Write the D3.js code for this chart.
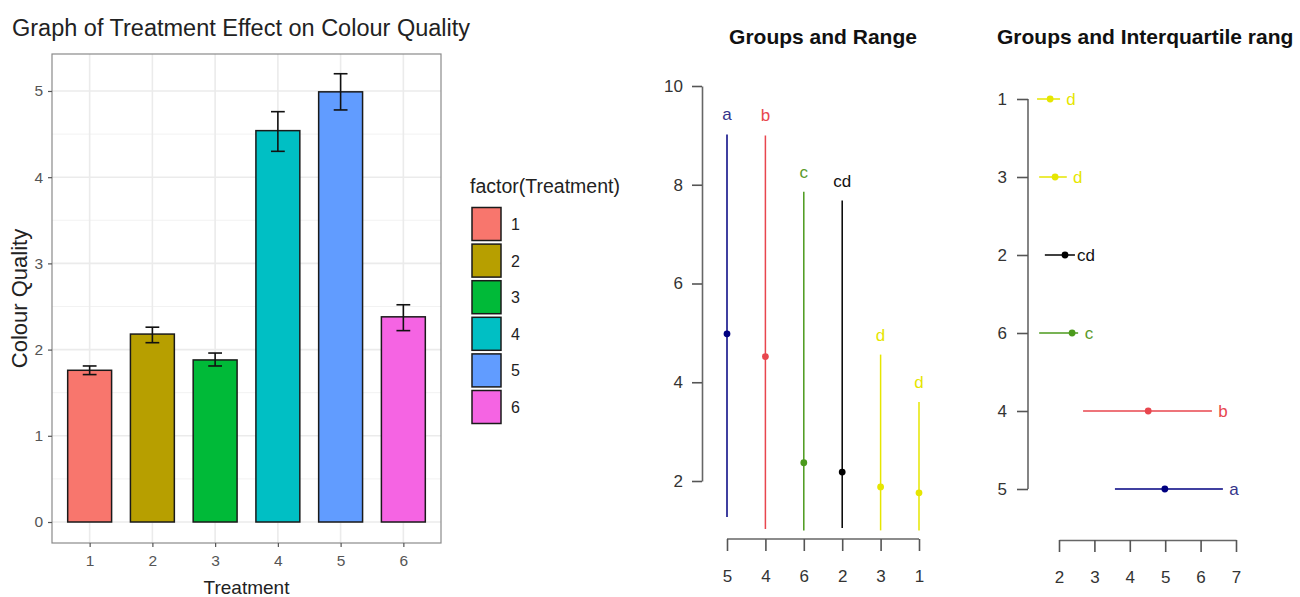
<!DOCTYPE html>
<html lang="en">
<head>
<meta charset="utf-8">
<title>Treatment Effect on Colour Quality</title>
<script src="https://cdn.jsdelivr.net/npm/d3@7"></script>
<style>
  body { margin: 0; background: #fff; }
  text { font-family: "Liberation Sans", Arial, sans-serif; }
</style>
</head>
<body>
<script>
// ---- bar chart data ----
var treatments = ["1", "2", "3", "4", "5", "6"];
var meanQuality = [1.76, 2.18, 1.88, 4.54, 4.99, 2.38];
var errLow = [1.71, 2.08, 1.81, 4.30, 4.78, 2.22];
var errHigh = [1.81, 2.26, 1.96, 4.76, 5.20, 2.52];
var barColors = ["#F8766D", "#B79F00", "#00BA38", "#00BFC4", "#619CFF", "#F564E3"];
var qualityTicks = [0, 1, 2, 3, 4, 5];

// ---- groups and range ----
var rangeOrder = ["5", "4", "6", "2", "3", "1"];
var rangeMin = [1.27, 1.03, 1.0, 1.05, 1.0, 1.0];
var rangeMax = [9.02, 9.0, 7.86, 7.68, 4.56, 3.6];
var rangeMean = [4.98, 4.52, 2.37, 2.18, 1.88, 1.76];
var rangeLetters = ["a", "b", "c", "cd", "d", "d"];
var rangeTicks = [2, 4, 6, 8, 10];

// ---- groups and interquartile range ----
var iqrOrder = ["1", "3", "2", "6", "4", "5"];
var q25 = [1.38, 1.44, 1.6, 1.44, 2.68, 3.58];
var q75 = [2.03, 2.22, 2.45, 2.54, 6.32, 6.63];
var iqrMean = [1.75, 1.89, 2.17, 2.37, 4.52, 4.99];
var iqrLetters = ["d", "d", "cd", "c", "b", "a"];
var iqrTicks = [2, 3, 4, 5, 6, 7];

// colour per letter group
var letterColor = { "a": "#000080", "b": "#e8464e", "c": "#4b9a1c", "cd": "#000000", "d": "#e6e600" };
var letterText = { "a": "#33338a", "b": "#e8464e", "c": "#5a9a2a", "cd": "#111111", "d": "#e6e600" };

var W = 1300, H = 597;
var svg = d3.select("body").append("svg").attr("width", W).attr("height", H);

// ================= left: bar chart =================
var px0 = 52, px1 = 441, py0 = 54, py1 = 543;
var x = d3.scaleLinear().domain([0.4, 6.6]).range([px0, px1]);
var y = d3.scaleLinear().domain([-0.2436, 5.429]).range([py1, py0]);

var left = svg.append("g");

// minor grid
var minor = d3.range(0.5, 5, 1);
left.selectAll(".minor").data(minor).enter().append("line")
  .attr("x1", px0).attr("x2", px1)
  .attr("y1", function(d) { return y(d); }).attr("y2", function(d) { return y(d); })
  .attr("stroke", "#f2f2f2").attr("stroke-width", 1);
// major grid
left.selectAll(".hmajor").data(qualityTicks).enter().append("line")
  .attr("x1", px0).attr("x2", px1)
  .attr("y1", function(d) { return y(d); }).attr("y2", function(d) { return y(d); })
  .attr("stroke", "#ebebeb").attr("stroke-width", 1.6);
left.selectAll(".vmajor").data(treatments).enter().append("line")
  .attr("y1", py0).attr("y2", py1)
  .attr("x1", function(d, i) { return x(i + 1); }).attr("x2", function(d, i) { return x(i + 1); })
  .attr("stroke", "#ebebeb").attr("stroke-width", 1.6);

// bars
left.selectAll("rect.bar").data(meanQuality).enter().append("rect")
  .attr("x", function(d, i) { return x(i + 1 - 0.35); })
  .attr("width", x(0.7) - x(0))
  .attr("y", function(d) { return y(d); })
  .attr("height", function(d) { return y(0) - y(d); })
  .attr("fill", function(d, i) { return barColors[i]; })
  .attr("stroke", "#1a1a1a").attr("stroke-width", 1.5);

// error bars
var eb = left.selectAll("g.eb").data(treatments).enter().append("g")
  .attr("stroke", "#111").attr("stroke-width", 1.6);
eb.append("line")
  .attr("x1", function(d, i) { return x(i + 1); }).attr("x2", function(d, i) { return x(i + 1); })
  .attr("y1", function(d, i) { return y(errLow[i]); }).attr("y2", function(d, i) { return y(errHigh[i]); });
eb.append("line")
  .attr("x1", function(d, i) { return x(i + 1 - 0.11); }).attr("x2", function(d, i) { return x(i + 1 + 0.11); })
  .attr("y1", function(d, i) { return y(errLow[i]); }).attr("y2", function(d, i) { return y(errLow[i]); });
eb.append("line")
  .attr("x1", function(d, i) { return x(i + 1 - 0.11); }).attr("x2", function(d, i) { return x(i + 1 + 0.11); })
  .attr("y1", function(d, i) { return y(errHigh[i]); }).attr("y2", function(d, i) { return y(errHigh[i]); });

// panel border
left.append("rect").attr("x", px0).attr("y", py0)
  .attr("width", px1 - px0).attr("height", py1 - py0)
  .attr("fill", "none").attr("stroke", "#8a8a8a").attr("stroke-width", 1.2);

// axes
var yAxis = d3.axisLeft(y).tickValues(qualityTicks).tickFormat(d3.format("d")).tickSize(4).tickPadding(5);
var gy = left.append("g").attr("transform", "translate(" + px0 + ",0)").call(yAxis);
var xAxis = d3.axisBottom(x).tickValues([1, 2, 3, 4, 5, 6])
  .tickFormat(function(d) { return treatments[d - 1]; }).tickSize(4).tickPadding(8);
var gx = left.append("g").attr("transform", "translate(0," + py1 + ")").call(xAxis);
[gx, gy].forEach(function(g) {
  g.select(".domain").remove();
  g.selectAll(".tick line").attr("stroke", "#555").attr("stroke-width", 1.2);
  g.selectAll(".tick text").attr("fill", "#555").style("font-size", "15.5px");
});

left.append("text").attr("x", 12).attr("y", 36)
  .style("font-size", "23.5px").attr("fill", "#222")
  .text("Graph of Treatment Effect on Colour Quality");
left.append("text").attr("transform", "translate(27," + ((py0 + py1) / 2) + ") rotate(-90)")
  .attr("text-anchor", "middle").style("font-size", "22px").attr("fill", "#222")
  .text("Colour Quality");
left.append("text").attr("x", (px0 + px1) / 2).attr("y", 594)
  .attr("text-anchor", "middle").style("font-size", "19px").attr("fill", "#222")
  .text("Treatment");

// legend
var ly = d3.scalePoint().domain(treatments).range([224, 407]);
var leg = svg.append("g");
leg.append("text").attr("x", 470).attr("y", 193)
  .style("font-size", "19.5px").attr("fill", "#222").text("factor(Treatment)");
leg.selectAll("rect").data(treatments).enter().append("rect")
  .attr("x", 472).attr("width", 29)
  .attr("y", function(d) { return ly(d) - 16.5; }).attr("height", 33)
  .attr("fill", function(d, i) { return barColors[i]; })
  .attr("stroke", "#1a1a1a").attr("stroke-width", 1.5);
leg.selectAll("text.lab").data(treatments).enter().append("text")
  .attr("class", "lab").attr("x", 511)
  .attr("y", function(d) { return ly(d) + 6; })
  .style("font-size", "16px").attr("fill", "#222").text(function(d) { return d; });

// ================= middle: groups and range =================
var mx = d3.scalePoint().domain(rangeOrder).range([727, 919]);
var my = d3.scaleLinear().domain([2, 10]).range([481, 86]);
var mid = svg.append("g");

mid.append("text").attr("x", 823).attr("y", 44).attr("text-anchor", "middle")
  .style("font-size", "21px").style("font-weight", "bold").attr("fill", "#111")
  .text("Groups and Range");

var myAxis = d3.axisLeft(my).tickValues(rangeTicks).tickSize(10).tickSizeOuter(0).tickPadding(9);
var gmy = mid.append("g").attr("transform", "translate(702,0)").call(myAxis);
var mxAxis = d3.axisBottom(mx).tickSize(12).tickSizeOuter(0).tickPadding(19);
var gmx = mid.append("g").attr("transform", "translate(0,539)").call(mxAxis);
gmx.select(".domain").attr("d", "M" + mx(rangeOrder[0]) + ",0H" + mx(rangeOrder[5]));
[gmx, gmy].forEach(function(g) {
  g.select(".domain").attr("stroke", "#666").attr("stroke-width", 1.6);
  g.selectAll(".tick line").attr("stroke", "#555").attr("stroke-width", 1.6);
  g.selectAll(".tick text").attr("fill", "#333").style("font-size", "17px");
});

mid.selectAll("line.rng").data(rangeOrder).enter().append("line")
  .attr("x1", function(d) { return mx(d); }).attr("x2", function(d) { return mx(d); })
  .attr("y1", function(d, i) { return my(rangeMin[i]); })
  .attr("y2", function(d, i) { return my(rangeMax[i]); })
  .attr("stroke", function(d, i) { return letterColor[rangeLetters[i]]; })
  .attr("stroke-width", 1.5);
mid.selectAll("circle").data(rangeOrder).enter().append("circle")
  .attr("cx", function(d) { return mx(d); })
  .attr("cy", function(d, i) { return my(rangeMean[i]); })
  .attr("r", 3.4)
  .attr("fill", function(d, i) { return letterColor[rangeLetters[i]]; });
mid.selectAll("text.let").data(rangeOrder).enter().append("text")
  .attr("x", function(d) { return mx(d); })
  .attr("y", function(d, i) { return my(rangeMax[i]) - 14; })
  .attr("text-anchor", "middle").style("font-size", "17px")
  .attr("fill", function(d, i) { return letterText[rangeLetters[i]]; })
  .text(function(d, i) { return rangeLetters[i]; });

// ================= right: groups and IQR =================
var rx = d3.scaleLinear().domain([2, 7]).range([1059, 1236]);
var ry = d3.scalePoint().domain(iqrOrder).range([99, 489]);
var rgt = svg.append("g");

rgt.append("text").attr("x", 997).attr("y", 44)
  .style("font-size", "21px").style("font-weight", "bold").attr("fill", "#111")
  .text("Groups and Interquartile rang");

var ryAxis = d3.axisLeft(ry).tickSize(11).tickSizeOuter(0).tickPadding(10);
var gry = rgt.append("g").attr("transform", "translate(1028,0)").call(ryAxis);
gry.select(".domain").attr("d", "M0," + ry(iqrOrder[0]) + "V" + ry(iqrOrder[5]));
var rxAxis = d3.axisBottom(rx).tickValues(iqrTicks).tickFormat(d3.format("d"))
  .tickSize(12).tickSizeOuter(0).tickPadding(19);
var grx = rgt.append("g").attr("transform", "translate(0,540)").call(rxAxis);
[grx, gry].forEach(function(g) {
  g.select(".domain").attr("stroke", "#666").attr("stroke-width", 1.6);
  g.selectAll(".tick line").attr("stroke", "#555").attr("stroke-width", 1.6);
  g.selectAll(".tick text").attr("fill", "#333").style("font-size", "17px");
});

rgt.selectAll("line.iqr").data(iqrOrder).enter().append("line")
  .attr("y1", function(d) { return ry(d); }).attr("y2", function(d) { return ry(d); })
  .attr("x1", function(d, i) { return rx(q25[i]); })
  .attr("x2", function(d, i) { return rx(q75[i]); })
  .attr("stroke", function(d, i) { return letterColor[iqrLetters[i]]; })
  .attr("stroke-width", 1.5);
rgt.selectAll("circle").data(iqrOrder).enter().append("circle")
  .attr("cy", function(d) { return ry(d); })
  .attr("cx", function(d, i) { return rx(iqrMean[i]); })
  .attr("r", 3.4)
  .attr("fill", function(d, i) { return letterColor[iqrLetters[i]]; });
rgt.selectAll("text.let").data(iqrOrder).enter().append("text")
  .attr("x", function(d, i) { return rx(q75[i]) + 11; })
  .attr("y", function(d) { return ry(d) + 6; })
  .attr("text-anchor", "middle").style("font-size", "17px")
  .attr("fill", function(d, i) { return letterText[iqrLetters[i]]; })
  .text(function(d, i) { return iqrLetters[i]; });
</script>
</body>
</html>
